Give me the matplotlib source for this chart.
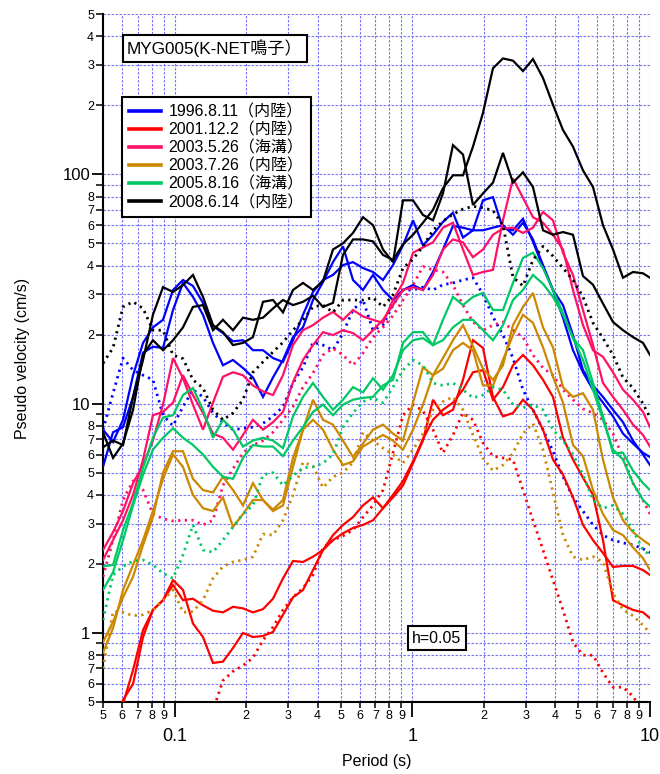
import numpy as np
import matplotlib
matplotlib.use("Agg")
import matplotlib.pyplot as plt
from matplotlib.lines import Line2D
from matplotlib.ticker import FixedLocator, FixedFormatter
from matplotlib.font_manager import FontProperties

plt.rcParams['font.family'] = ['Liberation Sans', 'Noto Sans CJK JP', 'DejaVu Sans']

# ---- data: period grid (s) shared by all records ----
periods = [0.050, 0.0551, 0.0607, 0.0669, 0.0737, 0.0811, 0.0894, 0.0985, 0.1085, 0.1195,
           0.1317, 0.1451, 0.1598, 0.1761, 0.194, 0.2137, 0.2355, 0.2594, 0.2858, 0.3149,
           0.3469, 0.3822, 0.4211, 0.4639, 0.5111, 0.5631, 0.6204, 0.6835, 0.753, 0.8296,
           0.914, 1.007, 1.109, 1.222, 1.346, 1.483, 1.634, 1.80, 1.983, 2.185,
           2.407, 2.652, 2.922, 3.219, 3.547, 3.907, 4.305, 4.743, 5.225, 5.757,
           6.342, 6.988, 7.698, 8.481, 9.344, 10.0]

# 1996.8.11 (blue)
blue_h1 = [5.3, 7.5, 7.9, 10.7, 16.7, 17.7, 17.5, 25.6, 33.6, 29.2, 24.4, 18.4, 14.7, 15.5, 14.3, 13, 10.7, 13, 15.5, 19.5,
           21.5, 28.3, 33.9, 41.4, 48.5, 34.6, 31.3, 36.4, 31.3, 28.3, 31.3, 32.9, 31.3, 37.5, 47, 59.5, 58.5, 57, 57, 58.5,
           60, 54.5, 61.5, 52, 40.2, 31.3, 26.9, 19.9, 14, 12, 10.7, 9.4, 8.3, 6.9, 6.0, 5.4]
blue_h2 = [7.7, 6.8, 8.5, 13.3, 18.4, 21.5, 23.2, 31.3, 34.6, 32.6, 27.5, 21.8, 20.3, 18.7, 18.9, 17.1, 17.1, 15.8, 15.2, 18.9,
           24.4, 30.7, 34.6, 36.4, 40.2, 41.4, 39, 37.5, 34.6, 40.2, 49, 63, 49, 54.5, 62, 68, 53, 57, 77, 79.5,
           58, 57, 64, 50.8, 39.4, 31.3, 23.7, 17.1, 13.7, 11.5, 10.1, 8.8, 7.4, 6.7, 6.1, 5.85]
blue_v = [7.7, 11.1, 15.8, 14.0, 13.3, 12.7, 8.9, 8.0, 9.7, 11.5, 10.7, 9.1, 8.3, 7.7, 7.8, 7.9, 8.2, 8.8, 9.7, 12.3,
          14.4, 18.5, 18, 17.1, 20.3, 25.6, 28.3, 20.9, 22, 26.9, 31.3, 31.3, 32.2, 31.3, 33, 33.6, 34.6, 35.4, 30, 23.9,
          19.9, 15.8, 11.5, 9.4, 7.7, 6.2, 4.8, 3.9, 3.4, 2.96, 2.67, 2.54, 2.47, 2.42, 2.33, 2.24]

# 2001.12.2 (red)
red_h1 = [0.3, 0.4, 0.51, 0.6, 0.96, 1.26, 1.39, 1.70, 1.54, 1.1, 0.96, 0.74, 0.75, 0.86, 1.0, 0.96, 0.97, 1.01, 1.2, 1.43,
          1.54, 1.88, 2.3, 2.67, 2.96, 3.2, 3.6, 3.9, 3.5, 3.9, 4.4, 5.5, 6.9, 10.4, 8.9, 9.4, 12.7, 18.9, 17.5, 10.7,
          8.8, 9.1, 10.4, 9.4, 7.7, 5.7, 4.9, 3.9, 2.96, 2.54, 2.23, 1.94, 1.96, 1.96, 1.88, 1.79]
red_h2 = [0.3, 0.4, 0.49, 0.69, 1.03, 1.26, 1.39, 1.62, 1.39, 1.41, 1.32, 1.25, 1.23, 1.3, 1.28, 1.23, 1.27, 1.41, 1.73, 2.06,
          2.04, 2.15, 2.3, 2.54, 2.72, 2.87, 2.96, 3.1, 3.5, 4.0, 4.6, 5.6, 7.0, 8.5, 9.4, 10.1, 11.5, 13.7, 14, 10.4,
          11.8, 14.7, 16.3, 14.7, 12.7, 10.7, 7.1, 5.7, 4.75, 4.0, 2.54, 1.39, 1.32, 1.26, 1.23, 1.16]
red_v = [np.nan, np.nan, np.nan, np.nan, np.nan, np.nan, np.nan, np.nan, np.nan, 0.3, 0.43, 0.46, 0.62, 0.68, 0.72, 0.78, 0.93, 1.06, 1.26, 1.43,
         1.57, 1.79, 2.35, 2.54, 2.65, 2.81, 3.2, 3.6, 4.2, 6.1, 8.9, 9.9, 9.3, 7.7, 6.1, 7.3, 9.1, 8.5, 6.75, 5.9,
         5.8, 5.7, 4.2, 3.1, 2.3, 1.7, 1.26, 0.91, 0.80, 0.80, 0.67, 0.58, 0.58, 0.53, 0.45, 0.41]

# 2003.5.26 (pink)
pink_h1 = [2.3, 2.75, 3.4, 4.5, 5.4, 6.9, 9.9, 15.8, 12.9, 9.9, 7.7, 10.1, 13.1, 13.7, 13.3, 12, 11.3, 10.9, 13.3, 18,
           20.9, 22, 23.7, 25.1, 23.2, 25.6, 24, 23.2, 22.5, 28.3, 33.6, 45.5, 48, 50.5, 58.5, 61.5, 47, 36.4, 37.5, 38.3,
           63, 96, 79, 65, 61.5, 54.5, 47, 31.3, 22, 17.1, 16, 13.7, 11.5, 10.4, 9.2, 7.9]
pink_h2 = [2.08, 2.54, 3.1, 4.0, 5.7, 8.9, 9.2, 10.1, 13.3, 10.9, 9.1, 7.4, 7.1, 6.3, 7.3, 8.5, 7.7, 8.3, 9.2, 12.4,
           15.5, 18, 20.5, 19.9, 20.9, 20.3, 18.9, 20.9, 23.2, 26.9, 31.3, 32.2, 31.3, 36.4, 47, 52, 50.5, 43.5, 47, 54.5,
           58, 58.5, 55.5, 58.5, 68.5, 63, 45.5, 36.4, 25.6, 18, 12.3, 10.7, 9.4, 8.1, 7.3, 6.5]
pink_v = [1.76, 2.54, 3.8, 4.6, 4.2, 3.3, 3.15, 3.08, 3.1, 3.1, 2.96, 3.1, 4.4, 5.2, 6.1, 6.6, 6.9, 7.5, 8.5, 9.7,
          11.8, 13.6, 16.3, 17.4, 16.3, 14.7, 16.6, 19.5, 21.5, 24.2, 28.3, 32.9, 39.6, 38.3, 37.5, 32.9, 26.9, 22.7, 20.9, 22,
          22.7, 20.9, 19.5, 16.3, 14.3, 13.3, 11.5, 10.4, 9.5, 9.1, 8.5, 7.4, 5.8, 4.5, 3.8, 3.3]

# 2003.7.26 (gold)
gold_h1 = [0.91, 1.12, 1.43, 1.76, 2.42, 3.2, 5.0, 6.2, 6.2, 4.7, 4.2, 4.1, 4.8, 4.2, 3.6, 4.5, 3.8, 3.45, 3.8, 5.8,
           7.7, 10.4, 8.5, 8.1, 6.9, 5.85, 6.7, 7.7, 8.1, 7.4, 6.9, 10.1, 14.4, 13.3, 15.8, 18.9, 22, 17.8, 14.2, 12.7,
           14.7, 22, 26.4, 30.4, 21.5, 17.6, 11.8, 10.7, 11.1, 9.4, 5.7, 3.9, 3.1, 2.75, 2.54, 2.42]
gold_h2 = [0.82, 1.05, 1.54, 1.98, 2.54, 3.4, 4.7, 6.0, 5.3, 4.0, 3.5, 3.4, 3.9, 2.9, 3.3, 3.8, 3.8, 3.4, 3.6, 5.3,
           7.7, 8.5, 7.7, 6.3, 5.4, 5.6, 6.5, 6.9, 7.3, 6.9, 6.3, 7.7, 9.9, 13.3, 14.2, 17.1, 18.4, 17.1, 12, 12,
           15.5, 19.9, 24.4, 22.5, 17.6, 13.1, 10.1, 6.6, 5.9, 4.2, 3.3, 2.81, 2.67, 2.36, 2.12, 1.88]
gold_v = [0.70, 1.24, 1.23, 1.19, 1.20, 1.26, 1.39, 1.54, 1.23, 1.24, 1.39, 1.73, 1.95, 2.04, 2.08, 2.15, 2.7, 2.67, 3.1, 4.0,
          5.55, 5.35, 4.3, 4.8, 5.0, 5.55, 7.5, 6.9, 6.4, 6.0, 5.5, 6.3, 7.4, 9.4, 10.2, 10.7, 9.4, 7.3, 5.8, 5.1,
          5.4, 6.1, 7.4, 8.2, 6.3, 4.1, 2.67, 2.15, 2.08, 2.15, 2.04, 1.49, 1.26, 1.19, 1.08, 1.0]

# 2005.8.16 (green)
green_h1 = [1.95, 1.98, 2.81, 3.7, 5.25, 7.1, 8.7, 8.9, 10.9, 11.7, 9.4, 7.1, 8.5, 7.7, 6.5, 6.9, 7.1, 6.9, 6.4, 8.8,
            10.7, 12.3, 10.7, 9.4, 10.4, 11.8, 11.2, 12.9, 11.5, 13.3, 17.1, 18.9, 19.3, 18, 23.2, 29.2, 26.9, 29.2, 30.4, 25.6,
            25.6, 33.6, 43.2, 45.5, 39, 31.3, 24.8, 19.3, 17.1, 12.3, 8.8, 6.1, 6.1, 5.1, 4.5, 4.2]
green_h2 = [1.54, 1.84, 2.54, 3.6, 4.9, 6.3, 7.1, 7.8, 7.1, 6.6, 6.0, 5.3, 4.8, 4.7, 5.8, 6.6, 6.5, 6.5, 5.9, 6.9,
            7.9, 9.2, 9.9, 8.9, 9.9, 10.4, 10.6, 10.7, 12, 12.7, 18.4, 20.5, 20.5, 18, 18.9, 21.5, 23.2, 23.2, 20.9, 18.9,
            22, 28.3, 31.3, 36.4, 33.3, 29.2, 24.4, 19.3, 15.5, 11.5, 8.5, 6.3, 5.7, 4.5, 3.8, 3.55]
green_v = [1.14, 1.79, 1.95, 2.06, 2.08, 1.98, 1.82, 1.73, 2.19, 2.96, 2.30, 2.25, 2.54, 2.9, 3.3, 3.6, 4.9, 5.0, 4.4, 4.85,
           5.25, 5.3, 5.5, 6.0, 7.9, 9.1, 10.2, 10.6, 10.1, 11.8, 14, 15.5, 14.7, 12.3, 12, 12.3, 11.5, 10.6, 10.9, 11.8,
           11.5, 9.9, 9.6, 9.9, 9.4, 7.7, 6.9, 6, 4.9, 3.8, 3.5, 3.6, 3.3, 2.81, 2.3, 2.19]

# 2008.6.14 (black)
black_h1 = [7.5, 5.8, 6.7, 9.4, 16.3, 18.9, 17.1, 18.9, 21.5, 26.4, 26.9, 20.9, 23.2, 20.9, 23.7, 23.2, 23.7, 26, 28.3, 26.9,
            27.8, 29.5, 26.4, 27.5, 44.5, 52, 52, 51, 44.5, 42.3, 49.5, 54.5, 61.5, 70, 87, 99, 99, 132, 185, 290,
            320, 313, 282, 318, 263, 201, 156, 132, 104, 88, 60, 47, 35.4, 37.5, 37, 35.4]
black_h2 = [6.45, 6.9, 6.6, 10.7, 15.5, 24.4, 32.2, 30.7, 32.9, 36.4, 29.2, 22, 20.5, 18, 18.4, 19.5, 27.8, 28.3, 25, 31.3,
            33.6, 31.3, 34.2, 47, 50, 55.5, 65, 60, 47, 41.4, 77, 77, 66.5, 63, 82.5, 134, 122, 73.5, 82.5, 92,
            124, 92, 102, 88, 57, 54.5, 56, 54.5, 36, 33, 27.3, 22.7, 20.9, 19.5, 18.4, 16.3]
black_v = [15, 17.5, 26.4, 27.8, 26, 20.9, 20.9, 16.3, 15.7, 12.7, 11.7, 9.4, 8.5, 9.1, 10.4, 13.7, 15.2, 16.8, 18.5, 20.9,
           23.2, 26.4, 26.9, 25, 28.3, 28.3, 28.3, 29, 26.4, 29.8, 39, 42.7, 48.5, 57, 62.5, 67, 70.5, 72.5, 71.5, 69.5,
           60, 35.6, 32.6, 42.3, 48.5, 44, 39, 34.6, 29.2, 22.5, 19.3, 16.3, 13, 11.7, 10, 8.7]

event_labels = ['1996.8.11（内陸）', '2001.12.2（内陸）', '2003.5.26（海溝）',
                '2003.7.26（内陸）', '2005.8.16（海溝）', '2008.6.14（内陸）']
event_colors = ['#0000ff', '#ff0000', '#ff1166', '#cc8800', '#00c864', '#000000']
event_data = [(blue_h1, blue_h2, blue_v), (red_h1, red_h2, red_v), (pink_h1, pink_h2, pink_v),
              (gold_h1, gold_h2, gold_v), (green_h1, green_h2, green_v), (black_h1, black_h2, black_v)]

x_major = [0.1, 1, 10]
x_major_labels = ['0.1', '1', '10']
x_minor = [0.05, 0.06, 0.07, 0.08, 0.09, 0.2, 0.3, 0.4, 0.5, 0.6, 0.7, 0.8, 0.9,
           2, 3, 4, 5, 6, 7, 8, 9]
x_minor_labels = ['5', '6', '7', '8', '9', '2', '3', '4', '5', '6', '7', '8', '9',
                  '2', '3', '4', '5', '6', '7', '8', '9']
y_major = [1, 10, 100]
y_major_labels = ['1', '10', '100']
y_minor = [0.5, 0.6, 0.7, 0.8, 0.9, 2, 3, 4, 5, 6, 7, 8, 9, 20, 30, 40, 50, 60, 70, 80, 90,
           200, 300, 400, 500]
y_minor_labels = ['5', '6', '7', '8', '', '2', '3', '4', '5', '6', '7', '8', '', '2', '3', '4', '5', '6', '7', '8', '',
                  '2', '3', '4', '5']

# ---- figure ----
fig = plt.figure(figsize=(6.6, 7.74), dpi=100)
ax = fig.add_axes([103 / 660, 72 / 774, 547 / 660, 688 / 774])
ax.set_xscale('log')
ax.set_yscale('log')

for (h1, h2, v), col in zip(event_data, event_colors):
    ax.plot(periods, h1, color=col, lw=1.6, solid_joinstyle='miter', zorder=3)
    ax.plot(periods, h2, color=col, lw=1.6, solid_joinstyle='miter', zorder=3)
    ax.plot(periods, v, color=col, lw=2.0, linestyle=(0, (0.8, 1.6)), zorder=3)

ax.set_xlim(0.05, 10)
ax.set_ylim(0.5, 500)

ax.xaxis.set_major_locator(FixedLocator(x_major))
ax.xaxis.set_major_formatter(FixedFormatter(x_major_labels))
ax.xaxis.set_minor_locator(FixedLocator(x_minor))
ax.xaxis.set_minor_formatter(FixedFormatter(x_minor_labels))
ax.yaxis.set_major_locator(FixedLocator(y_major))
ax.yaxis.set_major_formatter(FixedFormatter(y_major_labels))
ax.yaxis.set_minor_locator(FixedLocator(y_minor))
ax.yaxis.set_minor_formatter(FixedFormatter(y_minor_labels))

ax.tick_params(axis='x', which='major', direction='out', length=11, width=1.3, labelsize=13, pad=8)
ax.tick_params(axis='x', which='minor', direction='out', length=4.5, width=1.1, labelsize=9, pad=1.5)
ax.tick_params(axis='y', which='major', direction='out', length=8, width=1.3, labelsize=12, pad=1)
ax.tick_params(axis='y', which='minor', direction='out', length=5, width=1.1, labelsize=9, pad=1.5)

gcol = (0.45, 0.45, 1.0)
ax.grid(True, which='both', color=gcol, linestyle=(0, (2.2, 1.4)), linewidth=0.8, zorder=0)
ax.set_axisbelow(True)

for s in ['top', 'right']:
    ax.spines[s].set_visible(False)
for s in ['left', 'bottom']:
    ax.spines[s].set_linewidth(1.5)

ax.set_xlabel('Period (s)', fontsize=11.5)
ax.set_ylabel('Pseudo velocity (cm/s)', fontsize=11.5)
ax.xaxis.set_label_coords(0.5, -0.086)
ax.xaxis.label.set_verticalalignment('center')
ax.yaxis.set_label_coords(-0.148, 0.5)
ax.yaxis.label.set_verticalalignment('center')

# legend
handles = [Line2D([], [], color=c, lw=2.6) for c in event_colors]
leg = ax.legend(handles, event_labels, loc='upper left', bbox_to_anchor=(0.0347, 0.879),
                bbox_transform=ax.transAxes, frameon=True, fancybox=False, edgecolor='black',
                framealpha=1, borderaxespad=0, handlelength=2.0, handletextpad=0.45,
                labelspacing=0.18, borderpad=0.45,
                prop=FontProperties(family=['Liberation Sans', 'Noto Sans CJK JP'], size=11.5))
leg.get_frame().set_linewidth(1.5)
leg.set_zorder(10)

ax.text(0.0439, 0.9499, 'MYG005(K-NET鳴子）', transform=ax.transAxes, ha='left', va='center',
        fontsize=12.3, family=['Liberation Sans', 'Noto Sans CJK JP'], zorder=10,
        bbox=dict(boxstyle='square,pad=0.25', fc='white', ec='black', lw=1.5))
ax.text(0.6106, 0.0930, 'h=0.05', transform=ax.transAxes, ha='center', va='center',
        fontsize=11.5, zorder=10,
        bbox=dict(boxstyle='square,pad=0.3', fc='white', ec='black', lw=1.5))

fig.savefig('out.png', dpi=100)
